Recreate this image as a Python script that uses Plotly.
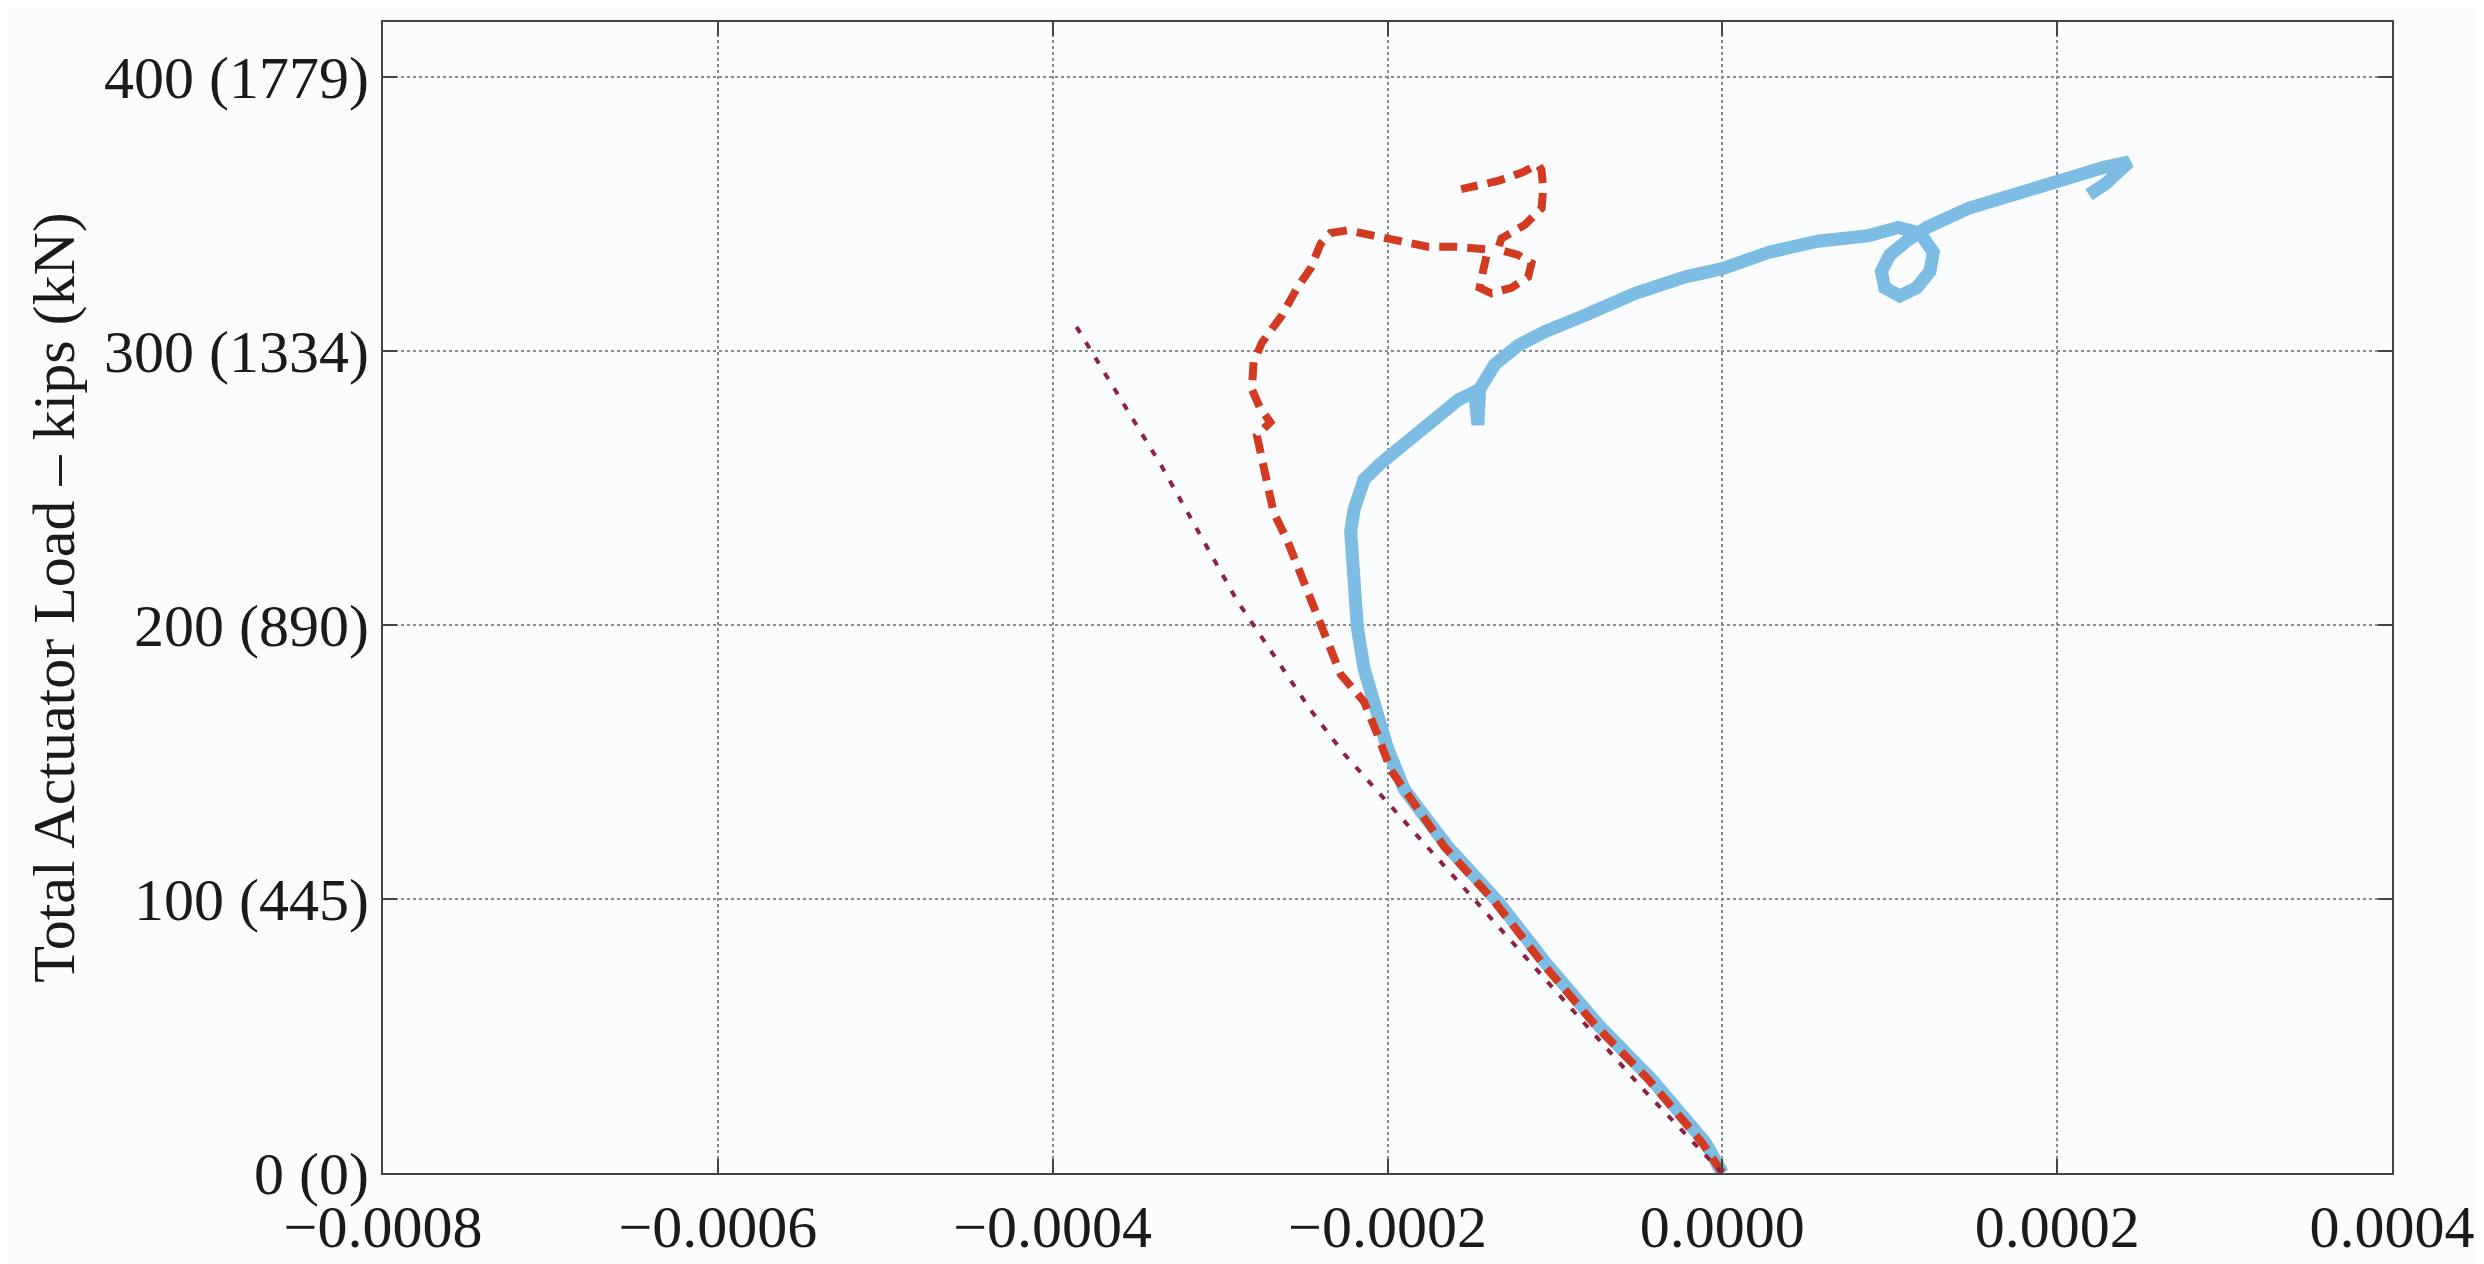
import plotly.graph_objects as go

# ---- data (strain, load in kips) ----
blue_strain = [0.0, -0.000010, -0.000042, -0.000074, -0.000106, -0.000134, -0.000164, -0.000190,
               -0.000200, -0.000208, -0.000214, -0.000218, -0.000220, -0.000221, -0.000222, -0.000220,
               -0.000214, -0.000204, -0.000190, -0.000178, -0.000166, -0.000158, -0.000148, -0.000146,
               -0.000145, -0.000136, -0.000122, -0.000106, -0.000082, -0.000052, -0.000022, 0.0,
               0.000028, 0.000057, 0.000087, 0.000105, 0.000118, 0.000126, 0.000124, 0.000116,
               0.000106, 0.000097, 0.000095, 0.000100, 0.000110, 0.000122, 0.000147, 0.000177,
               0.000201, 0.000228, 0.000243, 0.000229, 0.000219]
blue_load = [0, 11, 34, 54, 77, 99, 119, 140,
             155, 172, 184, 199, 211, 223, 234, 242,
             253, 259, 266, 273, 278, 282, 285, 273,
             286, 295, 302, 307, 313, 321, 327, 330,
             336, 340, 342, 345, 343, 336, 329, 323,
             320, 323, 329, 335, 340, 345, 352, 357,
             362, 367, 369, 361, 357]

red_strain = [0.0, -0.000012, -0.000044, -0.000076, -0.000108, -0.000136, -0.000166, -0.000190,
              -0.000198, -0.000206, -0.000214, -0.000228, -0.000240, -0.000248, -0.000254, -0.000260,
              -0.000268, -0.000272, -0.000275, -0.000278, -0.000270, -0.000276, -0.000281, -0.000280,
              -0.000275, -0.000263, -0.000254, -0.000246, -0.000240, -0.000234, -0.000224, -0.000202,
              -0.000176, -0.000160, -0.000140, -0.000143, -0.000145, -0.000138, -0.000126, -0.000116,
              -0.000114, -0.000122, -0.000134, -0.000132, -0.000118, -0.000108, -0.000107, -0.000108,
              -0.000110, -0.000120, -0.000134, -0.000156]
red_load = [0, 11, 34, 54, 77, 99, 119, 140,
            147, 160, 172, 182, 201, 212, 222, 231,
            241, 252, 261, 269, 274, 279, 286, 296,
            303, 313, 323, 330, 339, 343, 344, 341,
            338, 338, 337, 329, 323, 321, 323, 327,
            332, 335, 337, 341, 346, 352, 359, 366,
            368, 365, 362, 359]

dotted_strain = [0.0, -0.000048, -0.000147, -0.000226, -0.000246, -0.000290, -0.000335, -0.000389]
dotted_load = [0, 31, 99, 153, 169, 209, 258, 312]

x_tick_vals = [-0.0008, -0.0006, -0.0004, -0.0002, 0.0, 0.0002, 0.0004]
x_tick_text = ["\u22120.0008", "\u22120.0006", "\u22120.0004", "\u22120.0002", "0.0000", "0.0002", "0.0004"]
y_tick_vals = [0, 100, 200, 300, 400]
y_tick_text = ["0 (0)", "100 (445)", "200 (890)", "300 (1334)", "400 (1779)"]

fig = go.Figure()
fig.add_trace(go.Scatter(x=blue_strain, y=blue_load, mode="lines",
                         line=dict(color="#7DBDE3", width=13), hoverinfo="skip"))
fig.add_trace(go.Scatter(x=red_strain, y=red_load, mode="lines",
                         line=dict(color="#D33A22", width=8, dash="18px,10px"), hoverinfo="skip"))
fig.add_trace(go.Scatter(x=dotted_strain, y=dotted_load, mode="lines",
                         line=dict(color="#8E2040", width=4, dash="7px,11px"), hoverinfo="skip"))

fig.update_layout(
    width=2484, height=1264,
    margin=dict(l=375, r=100, t=13, b=87),
    paper_bgcolor="#FAFCFE", plot_bgcolor="#FAFCFE",
    font=dict(family="Liberation Serif", size=60, color="#1a1a1a"),
    showlegend=False,
)
axis_common = dict(
    showgrid=True, gridcolor="#8a8a8a", griddash="dot", gridwidth=2,
    showline=True, linecolor="#444444", linewidth=2, mirror="ticks",
    ticks="inside", ticklen=14, tickcolor="#444444", tickwidth=2,
    zeroline=False,
)
fig.update_xaxes(range=[-0.0008, 0.0004], tickmode="array",
                 tickvals=x_tick_vals, ticktext=x_tick_text, **axis_common)
fig.update_yaxes(range=[0, 420], tickmode="array",
                 tickvals=y_tick_vals, ticktext=y_tick_text,
                 title=dict(text="Total Actuator Load \u2013 kips (kN)", standoff=10,
                            font=dict(size=60, family="Liberation Serif")),
                 **axis_common)

fig.write_html("out.html", config={"displayModeBar": False})
